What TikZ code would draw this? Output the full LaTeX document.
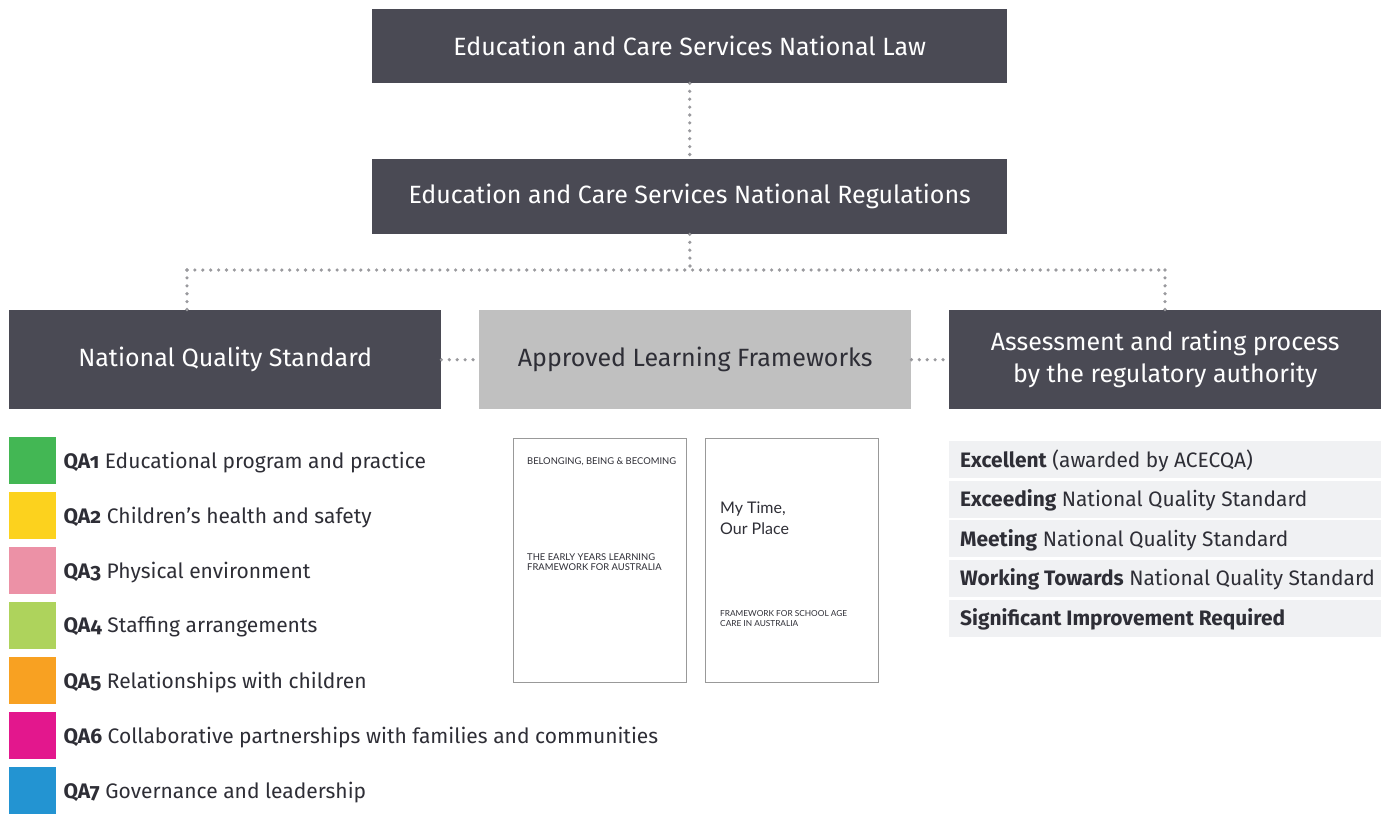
\documentclass[tikz,border=0pt]{standalone}
\usepackage{fontspec}
\setmainfont{Fira Sans}
\newfontfamily\qafont[Numbers=OldStyle]{Fira Sans}
\newfontfamily\bookfont{Lato}
\definecolor{dark}{HTML}{4A4A54}
\definecolor{lightbox}{HTML}{C0C0C0}
\definecolor{dotc}{HTML}{9A9A9E}
\definecolor{rowc}{HTML}{F0F1F3}
\definecolor{txt}{HTML}{2E2E36}
\definecolor{qa1}{HTML}{43B754}
\definecolor{qa2}{HTML}{FCD21E}
\definecolor{qa3}{HTML}{EC91A6}
\definecolor{qa4}{HTML}{AED35C}
\definecolor{qa5}{HTML}{F8A122}
\definecolor{qa6}{HTML}{E3178D}
\definecolor{qa7}{HTML}{2394D2}
\begin{document}
\begin{tikzpicture}[x=1pt,y=-1pt,
  darkbox/.style={fill=dark,text=white,inner sep=0pt,align=center,font=\fontsize{25}{30}\selectfont},
  dots/.style={draw=dotc,line width=3.6pt,line cap=round,dash pattern=on 0pt off 7.9pt},
  qasq/.style={minimum width=47pt,minimum height=47pt,inner sep=0pt,anchor=north west},
  qatext/.style={anchor=west,inner sep=0pt,text=txt,font=\qafont\fontsize{21}{25}\selectfont},
  rowbox/.style={fill=rowc,anchor=north west,minimum width=432pt,minimum height=37pt,inner sep=0pt},
  rowtext/.style={anchor=west,inner sep=0pt,text=txt,font=\fontsize{20.9}{25}\selectfont},
  book/.style={draw=gray!80,line width=1.2pt,fill=white,anchor=north west,minimum width=173pt,minimum height=244pt,inner sep=0pt},
  booktext/.style={anchor=north west,inner sep=0pt,align=left,text=txt}
]
\useasboundingbox (0,0) rectangle (1387,814);
% top boxes
\node[darkbox,minimum width=635pt,minimum height=74pt,anchor=north west] (law) at (372,9) {Education and Care Services National Law};
\node[darkbox,minimum width=635pt,minimum height=75pt,anchor=north west] (reg) at (372,159) {Education and Care Services National Regulations};
% level 3
\node[darkbox,minimum width=432pt,minimum height=99pt,anchor=north west] (nqs) at (9,310) {National Quality Standard};
\node[darkbox,fill=lightbox,text=txt,minimum width=432pt,minimum height=99pt,anchor=north west] (alf) at (479,310) {Approved Learning Frameworks};
\node[darkbox,minimum width=432pt,minimum height=99pt,anchor=north west,font=\fontsize{25}{32}\selectfont] (arp) at (949,310) {Assessment and rating process\\by the regulatory authority};
% connectors
\coordinate (j) at (690,270);
\coordinate (jl) at (187,270);
\coordinate (jr) at (1165,270);
\draw[dots] (law.south) -- (reg.north);
\draw[dots] (reg.south) -- (j);
\draw[dots] (jl) -- (jr);
\draw[dots] (jl) -- (jl |- nqs.north);
\draw[dots] (jr) -- (jr |- arp.north);
\draw[dots] (nqs.east) -- (alf.west);
\draw[dots] (alf.east) -- (arp.west);
% QA list
\foreach \i/\c/\t in {1/qa1/Educational program and practice,2/qa2/Children’s health and safety,3/qa3/Physical environment,4/qa4/Staffing arrangements,5/qa5/Relationships with children,6/qa6/Collaborative partnerships with families and communities,7/qa7/Governance and leadership}{
  \node[qasq,fill=\c] (sq\i) at (9,{437+55*(\i-1)}) {};
  \node[qatext] (qa\i) at ([xshift=7pt,yshift=-1.5pt]sq\i.east) {\textbf{QA\i} \t};
}
% books
\node[book] (b1) at (513,438) {};
\node[book] (b2) at (705,438) {};
\node[booktext,font=\bookfont\fontsize{9.4}{10.8}\selectfont] (b1a) at (527,457) {BELONGING, BEING \& BECOMING};
\node[booktext,font=\bookfont\fontsize{9.4}{10.8}\selectfont] (b1b) at (527,553) {THE EARLY YEARS LEARNING\\FRAMEWORK FOR AUSTRALIA};
\node[booktext,font=\bookfont\fontsize{16}{21}\selectfont] (b2a) at (720,502) {My Time,\\Our Place};
\node[booktext,font=\bookfont\fontsize{8.3}{9.8}\selectfont] (b2b) at (720,610) {FRAMEWORK FOR SCHOOL AGE\\CARE IN AUSTRALIA};
% ratings
\foreach \i/\t in {1/{\textbf{Excellent} (awarded by ACECQA)},2/{\textbf{Exceeding} National Quality Standard},3/{\textbf{Meeting} National Quality Standard},4/{\textbf{Working Towards} National Quality Standard},5/{\textbf{Significant Improvement Required}}}{
  \node[rowbox] (r\i) at (949,{441+39.6*(\i-1)}) {};
  \node[rowtext] (rt\i) at ([xshift=11pt,yshift=-1pt]r\i.west) {\t};
}
\end{tikzpicture}
\end{document}
